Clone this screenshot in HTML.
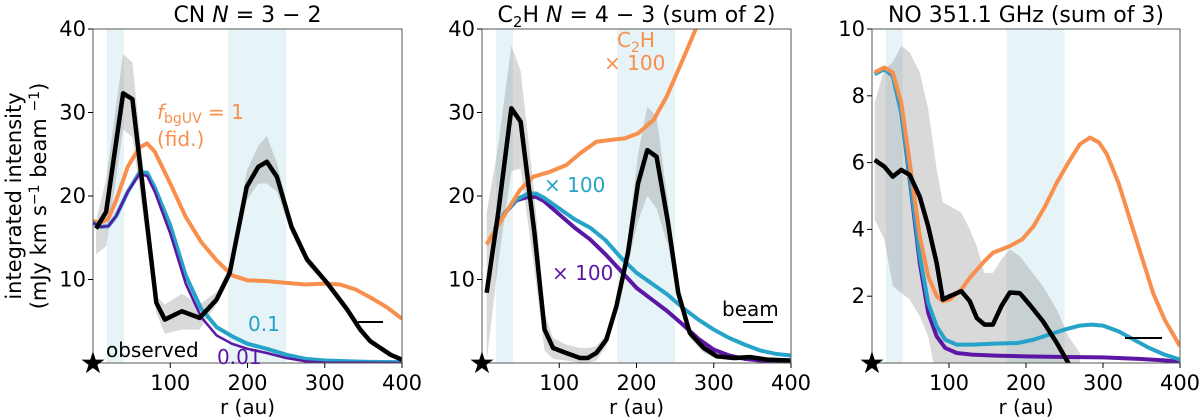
<!DOCTYPE html>
<html><head><meta charset="utf-8"><style>
body{margin:0;background:#fff;}
svg{display:block;font-family:"DejaVu Sans","Liberation Sans",sans-serif;}
</style></head><body>
<svg id="chart" width="1200" height="420" viewBox="0 0 1200 420" xmlns="http://www.w3.org/2000/svg"></svg>
<script>
// ---- Panel 1: CN ----
const cnObsR = [4,17,39,51,82,93,115,138,160,177,199,214,225,238,257,277,303,329,346,359,385,400];
const cnObsV = [16.1,18.1,32.3,31.6,7.2,5.2,6.2,5.4,7.6,10.8,21.1,23.5,24.1,22.3,16.3,12.4,9.6,6.4,4.0,2.6,1.0,0.4];
const cnObsHi = [17,22,37,36,8,7,8.3,7,8.5,11.5,23,26,27.2,24,17,13,10,7,4.5,3,1.3,0.6];
const cnObsLo = [13,14,28,27,6,3.5,4,4,7,10,19.5,21.5,21.5,20.5,15.5,11.8,9.2,6,3.6,2.3,0.8,0.2];
const cnOrR = [0,10,20,30,45,60,70,80,100,120,140,160,180,200,225,250,275,300,320,340,360,380,400];
const cnOrV = [17,16.8,17.3,19.5,23.5,25.8,26.3,25.3,21.5,17.5,14.5,12.3,10.5,9.9,9.8,9.6,9.4,9.5,9.4,8.8,7.8,6.7,5.3];
const cnCyR = [0,10,20,30,45,60,70,80,100,120,140,160,180,200,225,250,275,300,350,400];
const cnCyV = [16.8,16.3,16.4,17.6,20.5,22.8,22.8,21,16.5,10.5,6.5,4.3,3.2,2.3,1.7,1.0,0.5,0.3,0.15,0.1];
const cnPuR = [0,10,20,30,45,60,70,80,100,120,140,160,180,200,225,250,275,300,400];
const cnPuV = [16.8,16.3,16.4,17.6,20.5,22.6,22.4,20.5,15.5,9.5,5.5,3.3,2.3,1.7,1.2,0.6,0.2,0.05,0];
// ---- Panel 2: C2H ----
const chObsR = [6,21,38,50,68,81,92,109,127,137,148,161,174,189,202,214,226,241,254,269,287,304,326,347,369,399];
const chObsV = [8.4,18,30.5,28.9,15.5,4,1.8,1.2,0.6,0.6,1.2,2.8,6.8,13.2,21.5,25.5,24.7,16.7,8.4,3.6,1.8,0.8,0.6,0.7,0.4,0.3];
const chObsHi = [18,26,38,35,20,6,3,2.2,1.8,1.8,2,3.5,7.5,15,25,30.7,29.5,19,9.5,4.2,2.2,1.2,0.9,1,0.7,0.5];
const chObsLo = [0.2,12,23,23.3,11,1.5,0.5,0.3,0,0,0.3,2,6,12,17,20,18.5,14,7.5,3,1.2,0.5,0.3,0.3,0.2,0.1];
const chOrR = [6,25,49,66,88,109,127,148,165,185,202,222,239,256,269,278,290];
const chOrV = [14.2,17.1,20.7,22.3,22.9,23.7,25.1,26.5,26.7,26.9,27.5,29.1,31.9,35.5,38.3,40.3,43];
const chCyR = [16,20,30,45,60,70,80,100,120,140,160,180,200,220,240,260,280,300,320,340,360,380,400];
const chCyV = [16.0,16.5,18,19.6,20.3,20.3,19.8,18.5,17.2,16.2,14.7,12.6,10.8,9.5,8.2,6.6,5.2,4,3,2.2,1.5,1.1,0.9];
const chPuR = [16,20,30,45,60,70,80,100,120,140,160,180,200,220,240,260,280,300,320,340,360,400];
const chPuV = [16.0,16.5,18,19.5,19.9,19.9,19.4,17.8,16.2,14.8,13,11,9,7.6,6.2,4.6,2.9,1.6,0.9,0.5,0.3,0.1];
// ---- Panel 3: NO ----
const noObsR = [3.5,16,27,38,49,62,73,84,92,101,116,127,136,146,157,168,179,192,205,222,240,255,270];
const noObsV = [6.08,5.88,5.58,5.78,5.63,4.98,4.09,2.99,1.9,2.0,2.15,1.85,1.35,1.15,1.15,1.7,2.11,2.09,1.74,1.25,0.6,0,-0.5];
const noObsHi = [7.8,8.8,9.0,9.5,9.3,8.7,7.6,5.8,4.8,4.7,4.5,4,3.5,2.7,2.7,3.1,3.4,3.2,2.8,2.3,1.6,0.8,0.3];
const noObsLo = [4.3,3.7,2.3,2.1,1.9,1.4,0.8,-0.5,-1,-1,-1,-1,-1,-1,-1,-1,-1,-1,-1,-1,-1,-1,-1];
const noOrR = [3.5,16,27,38,49,62,73,84,92,101,116,127,146,157,179,195,210,225,240,255,270,283,295,305,320,335,350,365,380,395,400];
const noOrV = [8.7,8.85,8.7,7.8,6.0,3.8,2.6,2.0,1.85,1.9,2.2,2.55,3.05,3.3,3.5,3.7,4.1,4.7,5.4,6.0,6.55,6.75,6.6,6.25,5.4,4.3,3.2,2.1,1.3,0.7,0.5];
const noCyR = [3.5,16,27,38,49,62,73,84,95,110,130,160,190,210,230,250,270,285,300,320,340,360,380,400];
const noCyV = [8.65,8.8,8.6,7.5,5.6,3.2,1.8,1.1,0.7,0.55,0.55,0.58,0.6,0.7,0.85,1.0,1.12,1.15,1.12,0.95,0.7,0.45,0.25,0.1];
const noPuR = [3.5,16,27,38,49,62,73,84,95,110,130,160,200,250,300,350,380,400];
const noPuV = [8.65,8.8,8.6,7.5,5.5,3.0,1.5,0.8,0.45,0.3,0.25,0.22,0.2,0.18,0.17,0.12,0.08,0.03];
const xTicks = [100,200,300,400];
const yTicks1 = [10,20,30,40];
const yTicks3 = [2,4,6,8,10];

const NS='http://www.w3.org/2000/svg';
const svg=document.getElementById('chart');
function mk(tag,attrs,parent){const e=document.createElementNS(NS,tag);for(const k in attrs)e.setAttribute(k,attrs[k]);(parent||svg).appendChild(e);return e;}
const ORANGE='#f98f4d',CYAN='#26a3c9',PURPLE='#5b17a3';
const TOP=29,BOT=363;

function panel(id,L,R,ymax,yt,obs,models,title){
  const g=mk('g',{});
  
  
  const sx=r=>L+r/400*(R-L), sy=v=>BOT-v/ymax*(BOT-TOP);
  const cp=mk('clipPath',{id:'cp'+id},g);
  mk('rect',{x:L,y:TOP,width:R-L,height:BOT-TOP},cp);
  const pg=mk('g',{'clip-path':'url(#cp'+id+')'},g);
  [[18,40],[175,250]].forEach((b,i)=>{
    const rc=mk('rect',{x:sx(b[0]),y:TOP,width:sx(b[1])-sx(b[0]),height:BOT-TOP,fill:'#add8e6','fill-opacity':0.3},pg);
    
    
  });
  let d='';
  obs.r.forEach((r,i)=>{d+=(i?'L':'M')+sx(r)+','+sy(obs.hi[i]);});
  for(let i=obs.r.length-1;i>=0;i--)d+='L'+sx(obs.r[i])+','+sy(obs.lo[i]);
  const band=mk('path',{d:d+'Z',fill:'#808080','fill-opacity':0.3},pg);
  
  
  const line=(R_,V_,col,w,name)=>{
    const p=mk('path',{d:R_.map((r,i)=>(i?'L':'M')+sx(r)+','+sy(V_[i])).join(''),fill:'none',stroke:col,'stroke-width':w,'stroke-linejoin':'round'},pg);
    
    
  };
  models.forEach(m=>line(m[0],m[1],m[2],m[3],m[4]));
  line(obs.r,obs.v,'#000',4.5,'observed-line');
  const fr=mk('rect',{x:L,y:TOP,width:R-L,height:BOT-TOP,fill:'none',stroke:'#555','stroke-width':1},g);
  
  
  xTicks.forEach(t=>{
    mk('line',{x1:sx(t),x2:sx(t),y1:BOT,y2:BOT+5,stroke:'#000'},g);
    const tx=mk('text',{x:sx(t),y:BOT+27,'font-size':21,'text-anchor':'middle'},g);tx.textContent=t;
    
    
  });
  yt.forEach(t=>{
    mk('line',{x1:L-5,x2:L,y1:sy(t),y2:sy(t),stroke:'#000'},g);
    const tx=mk('text',{x:L-7,y:sy(t)+7,'font-size':21,'text-anchor':'end'},g);tx.textContent=t;
    
    
  });
  const xl=mk('text',{x:(L+R)/2,y:414,'font-size':20,'text-anchor':'middle'},g);xl.textContent='r (au)';
  
  
  const st=mk('text',{x:L,y:BOT+10,'font-size':30,'text-anchor':'middle'},g);st.textContent='★';
  
  
  const ti=mk('text',{x:(L+R)/2,y:22,'font-size':22,'text-anchor':'middle'},g);ti.innerHTML=title;
  
  
  return {g,sx,sy};
}
function txt(g,x,y,s,col,name,size){const t=mk('text',{x:x,y:y,'font-size':size||20,fill:col},g);t.innerHTML=s;return t;}
function beam(g,x1,x2,y){const l=mk('line',{x1:x1,x2:x2,y1:y,y2:y,stroke:'#000','stroke-width':2},g);}

const p1=panel('cn',93,402,40,yTicks1,{r:cnObsR,v:cnObsV,hi:cnObsHi,lo:cnObsLo},
 [[cnOrR,cnOrV,ORANGE,4,'model-fbguv-1'],[cnCyR,cnCyV,CYAN,4,'model-fbguv-0.1'],[cnPuR,cnPuV,PURPLE,2.5,'model-fbguv-0.01']],
 'CN <tspan font-style="italic">N</tspan> = 3 − 2');
txt(p1.g,157,119,'<tspan font-style="italic">f</tspan><tspan font-size="14" dy="4">bgUV</tspan><tspan dy="-4"> = 1</tspan>',ORANGE,'label-fid');
txt(p1.g,157,146,'(fid.)',ORANGE,'label-fid-2');
txt(p1.g,248,331,'0.1',CYAN,'label-0.1');
txt(p1.g,217,364,'0.01',PURPLE,'label-0.01');
txt(p1.g,106,357,'observed','#000','label-observed');
beam(p1.g,358,383,322);
const yl=mk('text',{transform:'translate(21,196) rotate(-90)','font-size':21,'text-anchor':'middle'});
yl.textContent='integrated intensity';


const yl2=mk('text',{transform:'translate(46,196) rotate(-90)','font-size':21,'text-anchor':'middle'});
yl2.innerHTML='(mJy km s<tspan font-size="14" dy="-7">−1</tspan><tspan dy="7"> beam </tspan><tspan font-size="14" dy="-7">−1</tspan><tspan dy="7">)</tspan>';



const p2=panel('c2h',482,791,40,yTicks1,{r:chObsR,v:chObsV,hi:chObsHi,lo:chObsLo},
 [[chPuR,chPuV,PURPLE,4,'model-purple-x100'],[chCyR,chCyV,CYAN,4,'model-cyan-x100'],[chOrR,chOrV,ORANGE,4,'model-c2h-x100']],
 'C<tspan font-size="15" dy="5">2</tspan><tspan dy="-5">H </tspan><tspan font-style="italic">N</tspan> = 4 − 3 (sum of 2)');
txt(p2.g,617,47,'C<tspan font-size="14" dy="5">2</tspan><tspan dy="-5">H</tspan>',ORANGE,'label-c2h');
txt(p2.g,604,70,'× 100',ORANGE,'label-orange-x100');
txt(p2.g,544,192,'× 100',CYAN,'label-cyan-x100');
txt(p2.g,552,280,'× 100',PURPLE,'label-purple-x100');
txt(p2.g,722,316,'beam','#000','label-beam');
beam(p2.g,743,773,322);

const p3=panel('no',872,1180,10,yTicks3,{r:noObsR,v:noObsV,hi:noObsHi,lo:noObsLo},
 [[noPuR,noPuV,PURPLE,4,'model-purple'],[noCyR,noCyV,CYAN,4,'model-cyan'],[noOrR,noOrV,ORANGE,4,'model-orange']],
 'NO 351.1 GHz (sum of 3)');
beam(p3.g,1125,1162,338);
</script>
</body></html>
